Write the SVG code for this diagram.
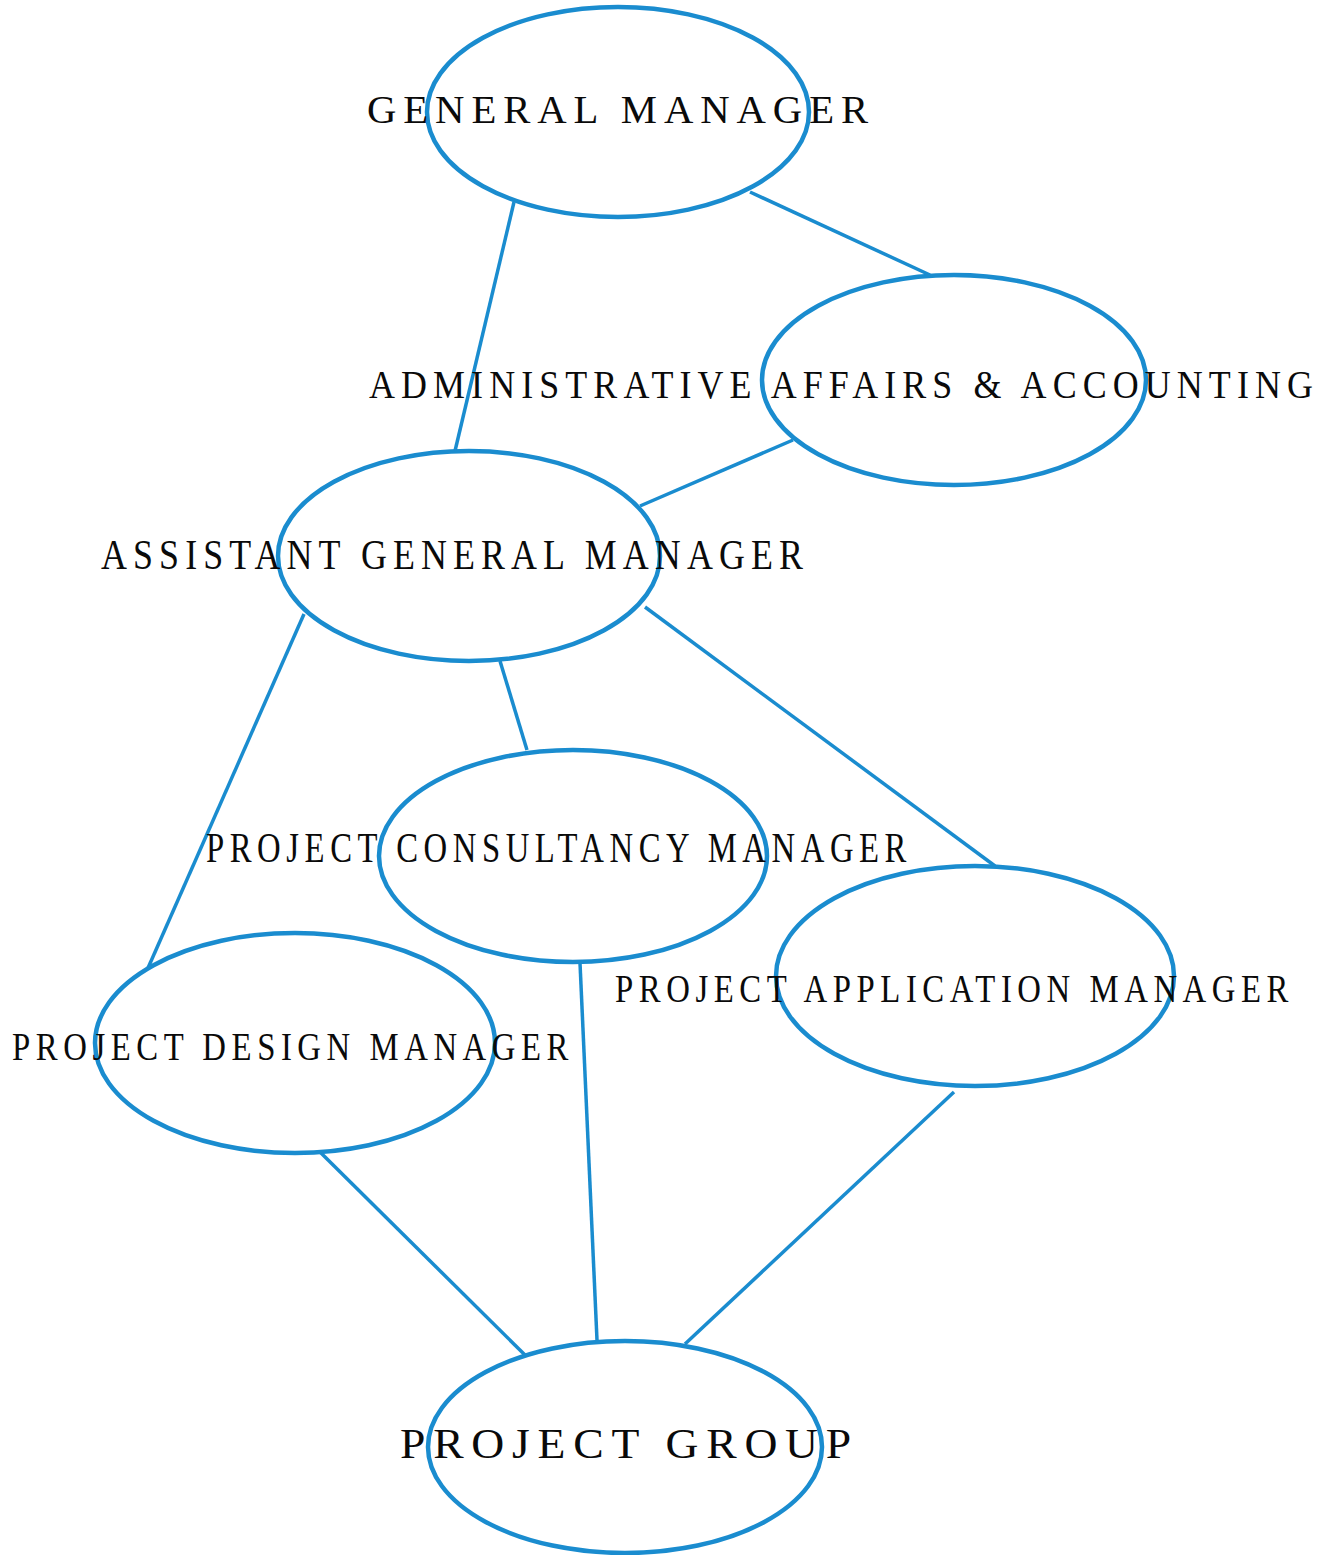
<svg xmlns="http://www.w3.org/2000/svg" width="1329" height="1555" viewBox="0 0 1329 1555">
<style>
.n{fill:none;stroke:#1a8ccf;stroke-width:4.5}
.c line{stroke:#1a8ccf;stroke-width:3.5}
text{font-family:"Liberation Serif","Times New Roman",serif;fill:#0a0a0a;letter-spacing:0.17em}
</style>
<rect width="1329" height="1555" fill="#fff"/>
<g id="connectors" class="c">
<line x1="514" y1="202" x2="455" y2="451"/>
<line x1="750" y1="192" x2="930" y2="275"/>
<line x1="793" y1="440" x2="640" y2="506"/>
<line x1="304" y1="614" x2="148" y2="968"/>
<line x1="500" y1="661" x2="527" y2="750"/>
<line x1="645" y1="607" x2="995" y2="866"/>
<line x1="580" y1="963" x2="597" y2="1340"/>
<line x1="320" y1="1152" x2="525" y2="1355"/>
<line x1="954" y1="1092" x2="685" y2="1344"/>
</g>
<g id="gm"><ellipse class="n" cx="618" cy="112" rx="191" ry="105"/><text x="367" y="123" font-size="41" textLength="508" lengthAdjust="spacingAndGlyphs">GENERAL MANAGER</text></g>
<g id="admin"><ellipse class="n" cx="954" cy="380" rx="192" ry="105"/><text x="369" y="398" font-size="41" textLength="950" lengthAdjust="spacingAndGlyphs">ADMINISTRATIVE AFFAIRS &amp; ACCOUNTING</text></g>
<g id="agm"><ellipse class="n" cx="469" cy="556" rx="191" ry="105"/><text x="101" y="569" font-size="43" textLength="708" lengthAdjust="spacingAndGlyphs">ASSISTANT GENERAL MANAGER</text></g>
<g id="consult"><ellipse class="n" cx="573" cy="856" rx="194" ry="106"/><text x="206" y="862" font-size="43" textLength="706" lengthAdjust="spacingAndGlyphs">PROJECT CONSULTANCY MANAGER</text></g>
<g id="app"><ellipse class="n" cx="975" cy="976" rx="199" ry="110"/><text x="615" y="1002" font-size="41" textLength="679" lengthAdjust="spacingAndGlyphs">PROJECT APPLICATION MANAGER</text></g>
<g id="design"><ellipse class="n" cx="295" cy="1043" rx="200" ry="110"/><text x="12" y="1060" font-size="39" textLength="562" lengthAdjust="spacingAndGlyphs">PROJECT DESIGN MANAGER</text></g>
<g id="pg"><ellipse class="n" cx="625" cy="1447" rx="197" ry="106"/><text x="400" y="1458" font-size="43" textLength="459" lengthAdjust="spacingAndGlyphs">PROJECT GROUP</text></g>
</svg>
